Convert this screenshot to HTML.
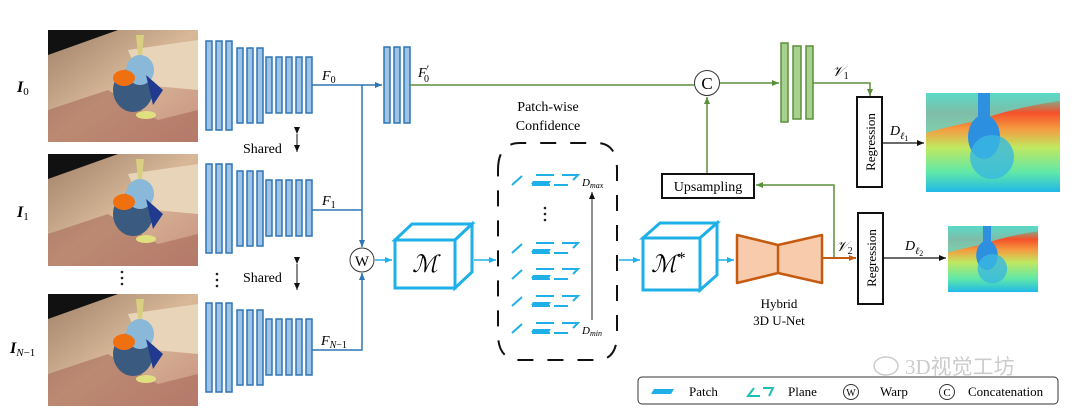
<!DOCTYPE html>
<html><head><meta charset="utf-8"><style>
html,body{margin:0;padding:0;background:#fff;}
svg{display:block;}
text{font-family:"Liberation Serif",serif;}
</style></head><body>
<svg width="1080" height="414" viewBox="0 0 1080 414" xmlns="http://www.w3.org/2000/svg">
<defs>
<marker id="ab" markerWidth="8" markerHeight="8" refX="7" refY="4" orient="auto" markerUnits="userSpaceOnUse"><path d="M0,1 L7,4 L0,7z" fill="#2e75b6"/></marker>
<marker id="ac" markerWidth="8" markerHeight="8" refX="7" refY="4" orient="auto" markerUnits="userSpaceOnUse"><path d="M0,1 L7,4 L0,7z" fill="#1fb0e8"/></marker>
<marker id="ag" markerWidth="8" markerHeight="8" refX="7" refY="4" orient="auto" markerUnits="userSpaceOnUse"><path d="M0,1 L7,4 L0,7z" fill="#5b8f3a"/></marker>
<marker id="ak" markerWidth="8" markerHeight="8" refX="7" refY="4" orient="auto" markerUnits="userSpaceOnUse"><path d="M0,1 L7,4 L0,7z" fill="#111"/></marker>
<marker id="ao" markerWidth="8" markerHeight="8" refX="7" refY="4" orient="auto" markerUnits="userSpaceOnUse"><path d="M0,1 L7,4 L0,7z" fill="#c55a11"/></marker>
<g id="stack" fill="#9dc3e6" stroke="#2e75b6" stroke-width="1.5">
<rect x="206" y="41" width="6" height="89"/><rect x="216" y="41" width="6" height="89"/><rect x="226" y="41" width="6" height="89"/>
<rect x="237" y="48" width="6" height="75"/><rect x="247" y="48" width="6" height="75"/><rect x="257" y="48" width="6" height="75"/>
<rect x="266" y="57" width="6" height="56"/><rect x="276" y="57" width="6" height="56"/><rect x="286" y="57" width="6" height="56"/><rect x="296" y="57" width="6" height="56"/><rect x="306" y="57" width="6" height="56"/>
</g>
<linearGradient id="dg" x1="0" y1="0" x2="0" y2="1">
<stop offset="0" stop-color="#40e0c0"/><stop offset="0.2" stop-color="#f5502a"/><stop offset="0.36" stop-color="#f59a40"/><stop offset="0.55" stop-color="#c0e860"/><stop offset="0.8" stop-color="#60e8a8"/><stop offset="1" stop-color="#20b8e8"/>
</linearGradient>
<g id="depth">
<rect x="0" y="0" width="134" height="99" fill="url(#dg)"/>
<path d="M0,0 H134 V8 Q90,14 50,28 Q20,34 0,40z" fill="#60d8c8" opacity="0.8"/>
<ellipse cx="58" cy="44" rx="16" ry="22" fill="#2c8fe0"/>
<ellipse cx="66" cy="64" rx="22" ry="22" fill="#38b8e0" opacity="0.8"/>
<rect x="52" y="0" width="12" height="24" fill="#3090e0"/>
</g>
<linearGradient id="pg" x1="0" y1="0" x2="1" y2="1">
<stop offset="0" stop-color="#a08068"/><stop offset="0.5" stop-color="#d8b898"/><stop offset="1" stop-color="#c89080"/>
</linearGradient>
<g id="photo">
<rect x="0" y="0" width="150" height="112" fill="url(#pg)"/>
<path d="M0,0 H70 L0,25z" fill="#111"/>
<path d="M80,20 L150,10 L150,60 L95,55z" fill="#e8d4b8"/>
<path d="M0,80 L60,60 L110,90 L150,80 V112 H0z" fill="#a86a5a" opacity="0.6"/>
<ellipse cx="85" cy="60" rx="20" ry="22" fill="#3a5a80"/>
<ellipse cx="92" cy="40" rx="14" ry="15" fill="#8ab8d8"/>
<ellipse cx="76" cy="48" rx="11" ry="8" fill="#f07010"/>
<path d="M98,45 L115,60 L105,75z" fill="#203a90"/>
<path d="M88,5 L96,5 L94,25 L90,25z" fill="#d8d080"/>
<ellipse cx="98" cy="85" rx="10" ry="4" fill="#e0e080"/>
</g>
<g id="plane" stroke="#1fb0e8" stroke-width="2" fill="none">
<path d="M12,0 L2,9"/><path d="M26,-1 L44,-1"/><path d="M22,9 L40,9"/><path d="M52,-1 L68,-1 L63,4"/><path d="M58,9 L44,9"/>
<path d="M23,5 L41,5 L39,8 L21,8z" fill="#1fb0e8" stroke="none"/>
</g>
</defs>

<use href="#photo" transform="translate(48,30)"/>
<use href="#photo" transform="translate(48,154)"/>
<use href="#photo" transform="translate(48,294)"/>
<g font-size="16" font-weight="bold" font-style="italic">
<text x="17" y="92">I<tspan font-size="11" font-weight="normal" font-style="normal" dy="3">0</tspan></text>
<text x="17" y="217">I<tspan font-size="11" font-weight="normal" font-style="normal" dy="3">1</tspan></text>
<text x="10" y="353">I<tspan font-size="11" font-weight="normal" font-style="italic" dy="3">N</tspan><tspan font-size="11" font-weight="normal" font-style="normal">−1</tspan></text>
</g>
<g fill="#222"><circle cx="122" cy="272" r="1.3"/><circle cx="122" cy="278" r="1.3"/><circle cx="122" cy="284" r="1.3"/>
<circle cx="217" cy="274" r="1.3"/><circle cx="217" cy="280" r="1.3"/><circle cx="217" cy="286" r="1.3"/>
<circle cx="545" cy="208" r="1.3"/><circle cx="545" cy="214" r="1.3"/><circle cx="545" cy="220" r="1.3"/></g>

<use href="#stack"/>
<use href="#stack" transform="translate(0,123)"/>
<use href="#stack" transform="translate(0,262)"/>
<text x="243" y="153" font-size="14">Shared</text>
<text x="243" y="282" font-size="14">Shared</text>
<g stroke="#111" stroke-width="1"><line x1="297" y1="134" x2="297" y2="152" marker-end="url(#ak)" marker-start="url(#ak)"/>
<line x1="297" y1="264" x2="297" y2="290" marker-end="url(#ak)" marker-start="url(#ak)"/></g>

<g stroke="#2e75b6" stroke-width="1.5" fill="none">
<line x1="312" y1="85" x2="382" y2="85" marker-end="url(#ab)"/>
<line x1="362" y1="85" x2="362" y2="247" marker-end="url(#ab)"/>
<line x1="312" y1="210" x2="362" y2="210"/>
<polyline points="312,350 362,350 362,273" marker-end="url(#ab)"/>
</g>
<g font-size="14" font-style="italic">
<text x="322" y="80">F<tspan font-size="10" font-style="normal" dy="3">0</tspan></text>
<text x="322" y="205">F<tspan font-size="10" font-style="normal" dy="3">1</tspan></text>
<text x="321" y="345">F<tspan font-size="10" dy="3">N</tspan><tspan font-size="10" font-style="normal">−1</tspan></text>
<text x="418" y="77">F<tspan font-size="12" font-style="normal" dy="-4">′</tspan></text>
<text x="424" y="82" font-size="10" font-style="normal">0</text>
</g>
<g fill="#9dc3e6" stroke="#2e75b6" stroke-width="1.5">
<rect x="384" y="47" width="6" height="76"/><rect x="394" y="47" width="6" height="76"/><rect x="404" y="47" width="6" height="76"/></g>
<circle cx="362" cy="260" r="12" fill="#fff" stroke="#333" stroke-width="1"/>
<text x="362" y="266" font-size="15" text-anchor="middle">W</text>

<g stroke="#1fb0e8" stroke-width="3" fill="#fff">
<path d="M395,240 L412,224 L472,224 L455,240z"/><path d="M455,240 L472,224 L472,272 L455,288z"/>
<rect x="395" y="240" width="60" height="48"/></g>
<text x="425" y="272" font-size="24" font-style="italic" text-anchor="middle">ℳ</text>
<g stroke="#1fb0e8" stroke-width="1.5"><line x1="375" y1="260" x2="392" y2="260" marker-end="url(#ac)"/>
<line x1="474" y1="260" x2="496" y2="260" marker-end="url(#ac)"/>
<line x1="619" y1="260" x2="640" y2="260" marker-end="url(#ac)"/>
<line x1="703" y1="260" x2="734" y2="260" marker-end="url(#ac)"/></g>

<text x="548" y="111" font-size="14" text-anchor="middle">Patch-wise</text>
<text x="548" y="130" font-size="14" text-anchor="middle">Confidence</text>
<path d="M498,170 Q498,143 520,143 L597,143 Q617,143 617,170 L617,334 Q617,360 597,360 L520,360 Q498,360 498,334z" fill="none" stroke="#111" stroke-width="2" stroke-dasharray="16,14"/>
<use href="#plane" transform="translate(510,176)"/>
<use href="#plane" transform="translate(510,244)"/>
<use href="#plane" transform="translate(510,270)"/>
<use href="#plane" transform="translate(510,297)"/>
<use href="#plane" transform="translate(510,324)"/>
<text x="582" y="186" font-size="11" font-style="italic">D<tspan font-size="8" dy="2">max</tspan></text>
<text x="582" y="334" font-size="11" font-style="italic">D<tspan font-size="8" dy="2">min</tspan></text>
<line x1="592" y1="320" x2="592" y2="192" stroke="#222" stroke-width="1" marker-end="url(#ak)"/>

<g stroke="#1fb0e8" stroke-width="3" fill="#fff">
<path d="M643,238 L660,223 L717,223 L700,238z"/><path d="M700,238 L717,223 L717,275 L700,290z"/>
<rect x="643" y="238" width="57" height="52"/></g>
<text x="668" y="272" font-size="24" font-style="italic" text-anchor="middle">ℳ<tspan font-size="16" dy="-9">*</tspan></text>

<path d="M737,235 L778,245 L778,273 L737,283z M778,245 L822,235 L822,283 L778,273z" fill="#f8cbad" stroke="#c55a11" stroke-width="2.5" stroke-linejoin="round"/>
<text x="779" y="308" font-size="13" text-anchor="middle">Hybrid</text>
<text x="779" y="325" font-size="13" text-anchor="middle">3D U-Net</text>
<line x1="823" y1="258" x2="856" y2="258" stroke="#c55a11" stroke-width="2" marker-end="url(#ao)"/>

<g stroke="#5b8f3a" stroke-width="1.5" fill="none">
<line x1="410" y1="85" x2="694" y2="85"/>
<line x1="720" y1="83" x2="779" y2="83" marker-end="url(#ag)"/>
<polyline points="813,83 870,83 870,96" marker-end="url(#ag)"/>
<line x1="707" y1="174" x2="707" y2="97" marker-end="url(#ag)"/>
<polyline points="834,258 834,185 756,185" marker-end="url(#ag)"/>
</g>
<g fill="#a9d18e" stroke="#5b8f3a" stroke-width="1.5">
<rect x="781" y="43" width="7" height="79"/><rect x="793" y="46" width="8" height="73"/><rect x="806" y="46" width="7" height="73"/></g>
<circle cx="707" cy="83" r="12.5" fill="#fff" stroke="#333" stroke-width="1"/>
<text x="707" y="89" font-size="17" text-anchor="middle">C</text>
<text x="832" y="76" font-size="14" font-style="italic">𝒱<tspan font-size="10" font-style="normal" dy="3">1</tspan></text>
<text x="836" y="251" font-size="14" font-style="italic">𝒱<tspan font-size="10" font-style="normal" dy="3">2</tspan></text>
<rect x="662" y="174" width="92" height="24" fill="#fff" stroke="#111" stroke-width="2"/>
<text x="708" y="191" font-size="14" text-anchor="middle">Upsampling</text>

<rect x="857" y="97" width="25" height="90" fill="#fff" stroke="#111" stroke-width="2"/>
<text transform="translate(875,142) rotate(-90)" font-size="13" text-anchor="middle">Regression</text>
<rect x="858" y="213" width="25" height="91" fill="#fff" stroke="#111" stroke-width="2"/>
<text transform="translate(876,258) rotate(-90)" font-size="13" text-anchor="middle">Regression</text>
<line x1="882" y1="143" x2="924" y2="143" stroke="#111" stroke-width="1.2" marker-end="url(#ak)"/>
<line x1="883" y1="258" x2="946" y2="258" stroke="#111" stroke-width="1.2" marker-end="url(#ak)"/>
<text x="890" y="135" font-size="14" font-style="italic">D<tspan font-size="10" dy="4">ℓ</tspan><tspan font-size="8" font-style="normal" dy="2">1</tspan></text>
<text x="905" y="250" font-size="14" font-style="italic">D<tspan font-size="10" dy="4">ℓ</tspan><tspan font-size="8" font-style="normal" dy="2">2</tspan></text>
<use href="#depth" transform="translate(926,93)"/>
<use href="#depth" transform="translate(948,226) scale(0.672,0.667)"/>

<text x="905" y="374" font-size="21" fill="#ccc" font-family="Liberation Sans, Noto Sans CJK SC, sans-serif">3D视觉工坊</text>
<ellipse cx="886" cy="366" rx="12" ry="9" fill="none" stroke="#ccc" stroke-width="1.5"/>

<rect x="638" y="377" width="420" height="27" rx="4" fill="#fff" stroke="#333" stroke-width="1"/>
<path d="M651,394 L671,394 L674,389 L654,389z" fill="#1fb0e8"/>
<text x="689" y="396" font-size="13">Patch</text>
<path d="M754,388 L748,396 L760,396 M763,388 L773,388 L769,396" stroke="#1fc0b8" stroke-width="2" fill="none"/>
<text x="788" y="396" font-size="13">Plane</text>
<circle cx="851" cy="392" r="7.5" fill="#fff" stroke="#333"/><text x="851" y="396" font-size="10" text-anchor="middle">W</text>
<text x="880" y="396" font-size="13">Warp</text>
<circle cx="947" cy="392" r="7.5" fill="#fff" stroke="#333"/><text x="947" y="396" font-size="11" text-anchor="middle">C</text>
<text x="968" y="396" font-size="13">Concatenation</text>
</svg>
</body></html>
